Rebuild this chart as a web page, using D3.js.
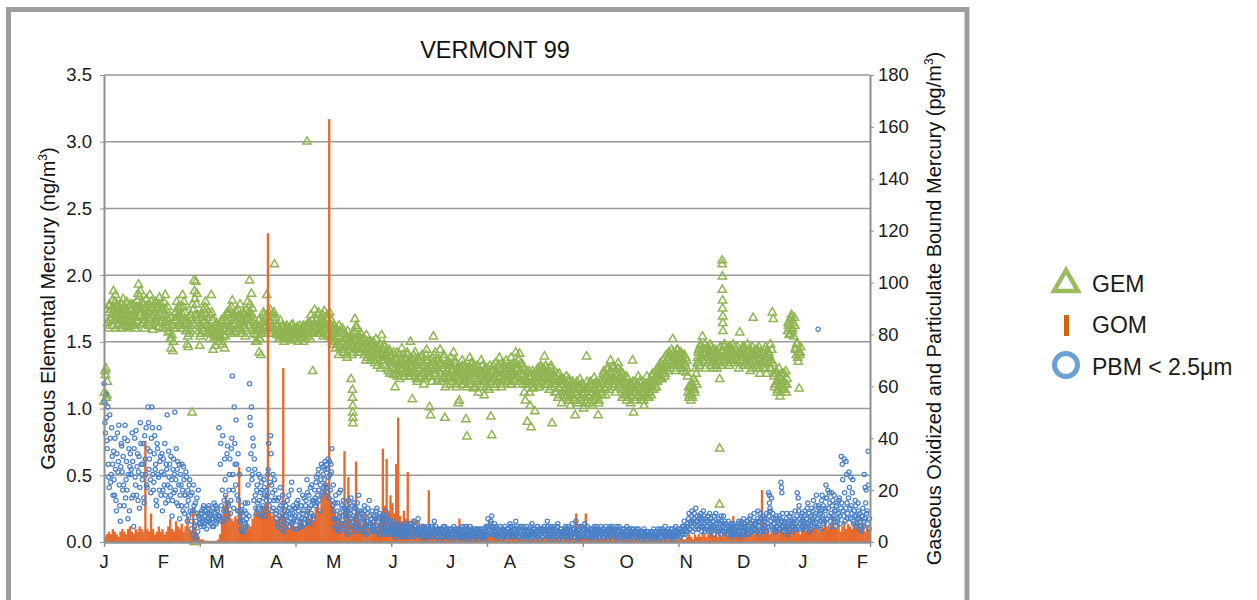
<!DOCTYPE html>
<html lang="en">
<head>
<meta charset="UTF-8">
<title>VERMONT 99</title>
<script src="https://d3js.org/d3.v7.min.js"></script>
<style>
  body { margin: 0; background: #fff; }
  svg { display: block; font-family: "Liberation Sans", Arial, sans-serif; }
  .axis text { font-size: 18.5px; fill: #1a1a1a; }
  .axis path, .axis line { stroke: #8f8f8f; }
</style>
</head>
<body>
<svg></svg>
<script>
// month initials and the day (from 1 Jan) each one starts on
const monthLabels = ["J","F","M","A","M","J","J","A","S","O","N","D","J","F"];
const monthDays = [0,31,59,90,120,151,181,212,243,273,304,334,365,396];
const tickDays = [0,50,100,150,200,250,300,350,400];
const leftTicks = [0,0.5,1,1.5,2,2.5,3,3.5];
const rightTicks = [0,20,40,60,80,100,120,140,160,180];

// GEM (ng/m3), readings at 00h and 12h from day 0
const gemValues = [
  1.05,1.28,1.30,1.10,1.64,1.72,1.77,1.66,1.70,1.81,
  1.88,1.74,1.85,1.68,1.72,1.63,1.66,1.75,1.70,1.62,
  1.82,1.71,1.74,1.65,1.61,1.68,1.70,1.77,1.78,1.66,
  1.64,1.72,1.69,1.60,1.76,1.81,1.93,1.84,1.88,1.74,
  1.72,1.64,1.66,1.70,1.82,1.73,1.68,1.62,1.85,1.76,
  1.70,1.59,1.64,1.72,1.80,1.69,1.74,1.61,1.83,1.70,
  1.78,1.66,1.70,1.60,1.85,1.74,1.68,1.57,1.62,1.52,
  1.45,1.55,1.43,1.60,1.66,1.72,1.80,1.70,1.75,1.64,
  1.69,1.60,1.85,1.76,1.72,1.63,1.58,1.48,1.46,1.56,
  1.62,1.70,0.97,1.74,1.96,1.82,1.95,1.86,1.70,1.62,
  1.47,1.56,1.60,1.68,1.74,1.66,1.80,1.70,1.63,1.57,
  1.52,1.60,1.85,1.66,1.44,1.55,1.47,1.58,1.62,1.52,
  1.50,1.62,1.58,1.66,1.48,1.55,1.45,1.60,1.64,1.70,
  1.72,1.58,1.62,1.76,1.81,1.66,1.70,1.57,1.60,1.68,
  1.74,1.62,1.78,1.65,1.56,1.64,1.70,1.60,1.66,1.74,
  1.80,1.68,1.96,1.72,1.86,1.75,1.64,1.58,1.62,1.55,
  1.50,1.60,1.42,1.52,1.40,1.58,1.65,1.70,1.62,1.56,
  1.85,1.66,1.72,1.60,1.64,1.56,1.70,1.61,2.08,1.68,
  1.62,1.55,1.58,1.52,1.66,1.57,1.54,1.60,1.50,1.58,
  1.55,1.62,1.53,1.57,1.60,1.51,1.56,1.63,1.52,1.58,
  1.57,1.54,1.61,1.50,1.55,1.59,1.53,1.57,1.62,1.55,
  1.58,1.52,3.00,1.60,1.56,1.64,1.70,1.58,1.28,1.62,
  1.74,1.62,1.66,1.56,1.72,1.60,1.58,1.68,1.65,1.54,
  1.73,1.63,1.60,1.55,1.70,1.58,1.64,1.52,1.57,1.48,
  1.62,1.50,1.45,1.56,1.48,1.40,1.58,1.52,1.44,1.60,
  1.50,1.42,1.46,1.55,1.38,1.48,1.44,1.52,1.22,1.40,
  1.46,1.58,1.67,1.52,1.60,1.45,1.55,1.48,1.42,1.50,
  1.52,1.44,1.40,1.48,1.55,1.38,1.46,1.42,1.36,1.50,
  1.48,1.38,1.44,1.34,1.52,1.40,1.36,1.46,1.42,1.30,
  1.55,1.40,1.36,1.46,1.32,1.42,1.38,1.28,1.44,1.34,
  1.40,1.30,1.35,1.25,1.16,1.38,1.42,1.28,1.33,1.22,
  1.36,1.45,1.30,1.24,1.38,1.32,1.27,1.40,1.35,1.26,
  1.50,1.30,1.07,1.36,1.24,1.42,1.32,1.20,1.38,1.28,
  1.22,1.34,1.40,1.26,1.18,1.32,1.36,1.44,1.24,1.30,
  1.01,0.95,1.30,1.38,1.54,1.26,1.42,1.32,1.20,1.36,
  1.28,1.44,1.34,1.22,1.30,1.40,0.93,1.26,1.18,1.35,
  1.32,1.24,1.38,1.28,1.20,1.42,1.26,1.34,1.16,1.30,
  1.04,1.06,1.22,1.30,1.36,1.18,1.25,1.32,0.92,0.79,
  1.24,1.18,1.38,1.30,1.22,1.34,1.15,1.28,1.26,1.20,
  1.32,1.12,1.20,1.28,1.36,1.16,1.24,1.10,1.30,1.22,
  1.18,1.26,1.14,1.32,0.94,0.80,1.22,1.28,1.16,1.34,
  1.26,1.20,1.30,1.38,1.24,1.16,1.34,1.28,1.22,1.30,
  1.36,1.25,1.20,1.32,1.28,1.38,1.18,1.26,1.34,1.22,
  1.42,1.30,1.24,1.36,1.41,1.28,1.20,1.33,1.26,1.12,
  1.06,1.22,0.90,1.18,1.28,1.02,0.86,1.20,1.15,1.26,
  0.98,1.24,1.18,1.30,1.22,1.16,1.32,1.26,1.20,1.28,
  1.39,1.24,1.18,1.30,1.26,1.14,1.22,1.32,0.89,1.20,
  1.24,1.12,1.18,1.26,1.08,1.20,1.15,1.22,1.04,1.18,
  1.22,1.10,1.16,1.24,1.06,1.14,1.20,1.02,1.12,1.18,
  1.08,1.16,0.95,1.10,1.20,1.04,1.14,1.22,1.08,1.12,
  1.18,1.00,1.06,1.14,1.39,1.10,1.16,1.04,1.20,1.12,
  1.02,1.14,1.23,1.08,1.10,1.18,0.95,1.06,1.14,1.20,
  1.12,1.22,1.28,1.16,1.10,1.24,1.20,1.30,1.14,1.36,
  1.26,1.18,1.32,1.22,1.12,1.28,1.20,1.34,1.16,1.24,
  1.18,1.08,1.26,1.14,1.20,1.10,1.06,1.22,1.16,1.12,
  1.04,1.18,1.36,0.97,1.12,1.20,1.08,1.16,1.24,1.10,
  1.14,1.06,1.20,1.12,1.02,1.18,1.10,1.24,1.16,1.08,
  1.12,1.20,1.18,1.26,1.14,1.22,1.28,1.16,1.20,1.30,
  1.24,1.34,1.28,1.22,1.36,1.30,1.26,1.40,1.32,1.38,
  1.42,1.30,1.36,1.44,1.52,1.34,1.40,1.28,1.38,1.44,
  1.34,1.42,1.30,1.38,1.36,1.28,1.40,1.32,1.27,1.36,
  1.12,1.08,1.16,1.06,1.10,1.14,1.22,1.12,1.30,1.18,
  1.38,1.44,1.32,1.48,1.40,1.54,1.36,1.44,1.30,1.42,
  1.46,1.34,1.40,1.48,1.32,1.38,1.44,1.30,1.36,1.42,
  1.30,1.40,1.34,1.22,1.46,1.38,1.42,1.34,1.48,1.38,
  1.36,1.44,1.40,1.32,1.46,1.36,1.42,1.48,1.34,1.40,
  1.44,1.36,1.40,1.30,1.57,1.42,1.38,1.46,1.32,1.40,
  1.44,1.34,1.48,1.38,1.36,1.28,1.42,1.46,1.68,1.40,
  1.36,1.44,1.30,1.40,1.46,1.26,1.38,1.34,1.42,1.30,
  1.34,1.46,1.26,1.38,1.42,1.30,1.48,1.36,1.72,1.67,
  1.24,1.18,1.28,1.12,1.20,1.30,1.09,1.22,1.16,1.26,
  1.20,1.14,1.28,1.18,1.58,1.62,1.66,1.56,1.70,1.60,
  1.64,1.68,1.45,1.40,1.49,1.35,1.15,1.42
];
// GEM (ng/m3), readings at 06h and 18h from day 0
const gemValues2 = [
  1.12,1.25,1.08,1.20,1.60,1.78,1.68,1.74,1.62,1.76,
  1.66,1.80,1.60,1.78,1.76,1.68,1.72,1.60,1.78,1.67,
  1.64,1.76,1.62,1.80,1.73,1.65,1.60,1.74,1.69,1.62,
  1.78,1.68,1.62,1.74,1.66,1.86,1.75,1.70,1.63,1.80,
  1.78,1.68,1.60,1.76,1.70,1.64,1.78,1.72,1.66,1.80,
  1.62,1.75,1.78,1.66,1.64,1.76,1.68,1.78,1.64,1.74,
  1.60,1.74,1.80,1.64,1.70,1.62,1.76,1.66,1.58,1.68,
  1.52,1.62,1.50,1.66,1.72,1.60,1.68,1.76,1.62,1.70,
  1.76,1.64,1.70,1.80,1.66,1.58,1.66,1.54,1.60,1.68,
  1.58,1.66,1.78,1.64,1.88,1.70,1.78,1.66,1.58,1.68,
  1.54,1.62,1.70,1.58,1.64,1.76,1.62,1.74,1.68,1.56,
  1.60,1.70,1.72,1.58,1.52,1.62,1.56,1.64,1.54,1.60,
  1.58,1.54,1.66,1.52,1.60,1.68,1.54,1.66,1.72,1.58,
  1.62,1.74,1.68,1.56,1.70,1.62,1.58,1.66,1.72,1.60,
  1.60,1.68,1.70,1.58,1.66,1.72,1.62,1.54,1.58,1.68,
  1.72,1.62,1.78,1.66,1.70,1.60,1.56,1.66,1.50,1.62,
  1.58,1.66,1.52,1.60,1.56,1.64,1.72,1.60,1.68,1.62,
  1.70,1.60,1.66,1.74,1.58,1.68,1.62,1.72,1.60,1.56,
  1.56,1.62,1.52,1.60,1.58,1.54,1.62,1.52,1.56,1.60,
  1.60,1.54,1.58,1.52,1.55,1.62,1.58,1.52,1.60,1.55,
  1.52,1.60,1.56,1.58,1.62,1.53,1.56,1.60,1.50,1.58,
  1.62,1.56,1.54,1.64,1.60,1.52,1.58,1.66,1.62,1.56,
  1.58,1.66,1.60,1.70,1.56,1.64,1.62,1.58,1.70,1.60,
  1.60,1.68,1.56,1.66,1.62,1.72,1.54,1.66,1.50,1.58,
  1.52,1.58,1.60,1.48,1.54,1.62,1.46,1.56,1.50,1.42,
  1.56,1.46,1.52,1.40,1.58,1.50,1.46,1.54,1.48,1.42,
  1.52,1.44,1.56,1.62,1.48,1.54,1.42,1.50,1.56,1.46,
  1.46,1.52,1.42,1.36,1.44,1.50,1.40,1.48,1.44,1.38,
  1.42,1.50,1.36,1.46,1.40,1.32,1.44,1.38,1.48,1.40,
  1.36,1.44,1.48,1.38,1.40,1.30,1.36,1.42,1.26,1.38,
  1.34,1.26,1.42,1.30,1.36,1.28,1.24,1.34,1.40,1.30,
  1.28,1.34,1.40,1.32,1.26,1.36,1.42,1.30,1.24,1.34,
  1.36,1.26,1.32,1.40,1.28,1.34,1.22,1.30,1.36,1.24,
  1.30,1.38,1.26,1.34,1.22,1.28,1.40,1.30,1.36,1.24,
  1.32,1.24,1.20,1.34,1.40,1.30,1.26,1.36,1.30,1.22,
  1.34,1.26,1.20,1.30,1.38,1.24,1.16,1.32,1.28,1.22,
  1.26,1.34,1.20,1.32,1.28,1.22,1.36,1.18,1.28,1.24,
  1.20,1.30,1.26,1.18,1.32,1.24,1.20,1.30,1.16,1.26,
  1.30,1.22,1.26,1.34,1.18,1.28,1.32,1.22,1.16,1.28,
  1.22,1.30,1.26,1.18,1.24,1.32,1.20,1.28,1.24,1.16,
  1.30,1.22,1.24,1.18,1.28,1.20,1.32,1.22,1.26,1.18,
  1.20,1.32,1.24,1.28,1.18,1.30,1.22,1.26,1.32,1.20,
  1.28,1.20,1.30,1.24,1.18,1.32,1.28,1.22,1.26,1.30,
  1.34,1.24,1.30,1.20,1.28,1.34,1.24,1.18,1.30,1.22,
  1.18,1.28,1.20,1.26,1.12,1.24,1.18,1.28,1.22,1.16,
  1.20,1.28,1.24,1.16,1.26,1.30,1.20,1.24,1.30,1.18,
  1.26,1.32,1.22,1.18,1.28,1.24,1.30,1.16,1.22,1.26,
  1.18,1.24,1.12,1.20,1.16,1.26,1.10,1.18,1.22,1.12,
  1.14,1.20,1.08,1.18,1.12,1.22,1.06,1.16,1.10,1.20,
  1.14,1.06,1.18,1.12,1.04,1.16,1.10,1.06,1.18,1.14,
  1.10,1.16,1.12,1.04,1.20,1.14,1.08,1.18,1.10,1.06,
  1.12,1.18,1.06,1.14,1.20,1.10,1.04,1.16,1.20,1.10,
  1.18,1.26,1.20,1.14,1.24,1.30,1.18,1.22,1.28,1.20,
  1.22,1.30,1.16,1.26,1.20,1.24,1.30,1.18,1.22,1.28,
  1.14,1.22,1.18,1.10,1.16,1.24,1.12,1.08,1.18,1.14,
  1.10,1.16,1.20,1.12,1.06,1.14,1.18,1.10,1.14,1.20,
  1.08,1.16,1.12,1.06,1.14,1.10,1.18,1.08,1.12,1.16,
  1.16,1.10,1.24,1.14,1.20,1.16,1.24,1.20,1.26,1.22,
  1.28,1.22,1.32,1.26,1.30,1.24,1.34,1.30,1.36,1.28,
  1.34,1.40,1.32,1.38,1.42,1.36,1.32,1.40,1.44,1.36,
  1.38,1.32,1.42,1.36,1.30,1.40,1.34,1.38,1.30,1.24,
  1.16,1.10,1.12,1.18,1.08,1.16,1.14,1.20,1.26,1.34,
  1.42,1.34,1.46,1.38,1.44,1.36,1.40,1.48,1.36,1.44,
  1.38,1.44,1.36,1.42,1.46,1.34,1.40,1.38,1.44,1.32,
  1.42,1.36,1.40,1.46,1.32,1.42,1.38,1.46,1.36,1.42,
  1.40,1.34,1.46,1.38,1.42,1.44,1.36,1.40,1.46,1.38,
  1.38,1.46,1.34,1.42,1.40,1.36,1.44,1.38,1.46,1.34,
  1.40,1.38,1.32,1.44,1.40,1.34,1.38,1.30,1.42,1.36,
  1.40,1.32,1.44,1.36,1.30,1.42,1.34,1.40,1.36,1.44,
  1.38,1.30,1.42,1.34,1.40,1.36,1.30,1.44,1.34,1.26,
  1.16,1.26,1.20,1.14,1.24,1.18,1.12,1.26,1.20,1.14,
  1.26,1.18,1.12,1.22,1.64,1.55,1.60,1.68,1.58,1.64,
  1.54,1.62,1.44,1.48,1.38,1.42,1.40,1.46
];
// GEM readings that fall off the regular grid: [day, value]
const gemExtra = [
  [47.2,0.22],[47.2,0.0],
  [129.8,1.14],[129.8,1.08],[129.9,1.02],[129.9,0.97],[130.0,0.93],[130.0,0.89],
  [321.5,0.70],[321.4,0.28],
  [322.8,2.11],[322.8,2.08],[322.9,1.99],[322.9,1.89],[323.0,1.81],[323.0,1.75],
  [323.1,1.69],[323.1,1.64],[323.2,1.58]
];

// GOM (pg/m3), one value per day from day 0
const gomValues = [
  2,3,4,3,5,4,3,2,4,5,
  4,3,5,6,4,3,5,4,6,5,
  4,39,5,4,11,5,3,4,6,4,
  5,3,4,6,9,5,4,8,6,5,
  7,4,6,10,5,4,13,6,3,2,
  1,1,0.5,0.5,0.5,0.4,0.5,0.3,0.5,1,
  3,10,14,18,16,12,9,8,10,9,
  29,12,6,4,8,5,6,9,11,13,
  10,12,14,13,15,119,12,10,11,9,
  8,10,11,67,9,6,5,7,8,6,
  5,7,9,8,6,10,12,9,11,8,
  13,15,12,18,20,23,19,163,16,14,
  12,10,9,11,8,35,14,25,9,7,
  10,31,12,8,6,9,11,7,5,8,
  6,9,5,7,10,36,14,32,12,18,
  15,11,30,48,10,8,12,9,27,7,
  6,9,5,8,4,6,7,5,4,20,
  4,3,5,2,4,3,2,4,3,2,
  3,2,4,3,2,9,3,2,4,7,
  3,2,1,2,3,1,2,3,4,3,
  2,3,4,5,3,2,1,2,3,2,
  1,2,1,2,3,2,1,2,1,2,
  1,2,1,1,2,1,2,1,1,2,
  1,2,1,2,1,1,2,1,2,1,
  2,1,2,3,2,1,11,2,3,2,
  3,11,2,4,3,2,1,2,1,2,
  1,2,1,1,2,1,2,1,2,1,
  1,2,1,1,2,1,1,2,1,1,
  1,1,2,1,1,2,1,1,1,2,
  1,1,2,1,1,1,2,1,1,1,
  1,2,1,1,2,3,2,1,3,2,
  3,2,4,3,2,3,4,3,2,3,
  2,3,2,4,3,2,3,4,10,3,
  2,3,4,3,5,4,3,4,5,3,
  4,5,3,20,6,4,5,3,4,6,
  4,5,3,6,4,3,5,4,6,5,
  4,6,5,3,5,6,4,7,5,6,
  5,7,6,4,6,5,8,6,5,7,
  10,6,5,7,4,6,8,5,7,6,
  5,7,6,8,5,6,7,4,6,5
];

// PBM < 2.5um (pg/m3), readings at 00h and 12h from day 0
const pbmValues = [
  61,46,57,39,52,25,49,23,44,30,
  35,18,28,12,42,31,22,8,38,27,
  33,14,45,24,20,9,36,29,26,17,
  31,6,40,22,18,34,27,13,46,30,
  24,38,15,32,44,21,52,28,35,19,
  52,26,23,41,30,14,36,25,20,33,
  27,12,32,22,18,30,49,16,25,21,
  33,10,28,19,50,24,15,31,22,9,
  26,14,20,29,11,18,25,8,16,22,
  12,5,19,3,14,1,8,17,4,10,
  9,6,12,8,14,7,10,5,11,13,
  8,10,12,6,9,15,11,7,13,9,
  44,10,38,8,41,12,32,18,9,37,
  14,26,11,36,64,20,52,30,47,18,
  34,12,10,5,14,8,4,12,6,9,
  15,28,61,45,52,26,37,32,18,11,
  22,13,16,25,10,20,14,24,18,12,
  20,26,38,16,41,22,19,13,24,17,
  9,16,6,13,21,8,11,15,4,10,
  14,7,12,18,6,9,23,11,8,13,
  10,15,5,12,20,8,14,6,11,17,
  9,16,24,12,18,7,14,22,10,16,
  20,14,25,18,28,16,22,30,19,26,
  24,31,21,28,32,17,26,30,36,14,
  12,6,18,9,15,4,10,20,7,13,
  16,5,11,9,14,3,8,12,17,6,
  10,15,4,13,7,11,18,6,9,12,
  5,10,14,7,3,11,8,16,6,9,
  12,4,8,10,6,13,5,9,11,3,
  7,10,5,8,12,4,9,6,3,8,
  6,4,8,3,5,7,2,6,4,5,
  3,6,5,2,7,4,3,5,6,2,
  4,7,3,5,2,6,4,3,9,5,
  3,5,2,4,6,3,1,5,4,2,
  5,3,4,6,2,8,3,4,5,2,
  4,1,3,5,2,4,6,3,2,5,
  3,5,2,4,1,3,5,2,4,3,
  2,4,5,1,3,2,4,6,3,1,
  2,4,3,5,1,3,4,2,5,3,
  4,2,1,3,5,2,3,4,1,6,
  4,9,6,3,8,10,5,3,7,2,
  3,5,2,4,6,1,3,5,2,4,
  4,2,5,3,7,4,2,6,3,5,
  8,3,5,2,4,6,1,3,5,2,
  3,6,2,4,5,1,3,7,2,4,
  5,3,2,6,4,1,3,5,2,4,
  6,3,4,8,2,5,3,1,4,6,
  3,5,2,4,7,1,3,5,2,4,
  4,2,6,3,5,1,3,4,2,7,
  3,5,2,8,4,1,3,6,2,4,
  5,3,7,2,4,6,3,1,5,3,
  2,4,6,3,1,5,3,2,4,6,
  3,5,2,4,6,3,1,4,5,2,
  4,6,3,2,5,3,4,1,6,3,
  2,4,5,3,1,4,6,2,3,5,
  4,2,3,5,1,3,4,2,5,3,
  3,1,4,2,5,3,2,4,1,3,
  2,4,3,1,5,2,3,4,2,1,
  3,5,2,4,1,3,6,2,4,3,
  2,4,3,5,1,3,2,6,4,3,
  3,5,2,4,6,3,8,5,4,7,
  6,11,5,8,12,4,9,7,13,6,
  8,5,10,6,4,9,12,7,5,8,
  6,10,4,7,9,5,8,3,6,11,
  7,4,9,5,3,8,6,10,4,7,
  5,3,8,4,6,2,5,7,3,4,
  4,6,3,8,5,2,7,4,9,3,
  6,4,8,5,3,10,7,4,6,11,
  5,8,4,12,6,3,9,7,10,5,
  8,4,11,6,19,15,12,17,5,9,
  7,4,10,6,8,5,9,23,19,6,
  4,8,6,11,3,7,10,5,8,4,
  6,9,12,5,19,17,14,7,10,6,
  5,8,12,6,9,15,7,4,10,13,
  8,16,6,11,18,9,14,7,12,5,
  18,9,7,13,22,17,20,10,15,6,
  19,16,9,12,6,14,8,11,17,7,
  33,30,12,32,8,31,15,9,27,13,
  25,11,24,7,10,14,6,9,12,5,
  8,4,10,6,26,21,20,12,35,5
];
// PBM < 2.5um (pg/m3), readings at 06h and 18h from day 0
const pbmValues2 = [
  54,42,48,36,30,21,40,26,33,18,
  24,40,16,34,27,45,14,29,37,20,
  22,40,17,31,39,26,12,34,28,42,
  18,36,25,43,29,16,33,21,38,26,
  30,17,41,26,22,36,46,32,24,40,
  44,20,34,28,16,38,26,44,31,18,
  34,20,26,38,15,28,22,35,30,18,
  24,16,32,26,20,36,28,14,30,18,
  22,30,12,24,18,27,14,20,10,24,
  18,8,12,22,6,15,2,11,20,7,
  7,11,9,13,6,10,12,8,9,14,
  11,7,9,13,6,10,14,8,12,10,
  10,30,14,20,8,16,24,12,34,15,
  20,32,16,40,26,13,38,22,30,12,
  16,26,8,12,4,10,7,15,11,6,
  22,10,48,34,24,40,16,28,13,20,
  15,26,11,19,23,13,17,21,10,16,
  18,28,14,23,34,12,26,16,20,11,
  12,7,17,10,14,5,18,9,12,6,
  10,16,8,13,11,20,7,14,9,5,
  13,8,16,10,6,14,9,18,12,7,
  14,10,19,8,13,21,11,16,9,15,
  17,23,15,26,20,12,24,18,29,21,
  28,22,30,19,25,31,20,27,16,22,
  9,15,5,12,8,19,11,6,14,10,
  7,13,10,4,12,16,6,11,9,14,
  8,13,6,10,15,5,12,8,4,11,
  9,6,12,4,8,13,6,10,7,5,
  6,10,4,9,12,5,8,3,10,6,
  5,9,4,7,3,10,6,4,8,5,
  5,3,6,4,2,5,7,3,5,6,
  4,2,5,6,3,4,5,2,4,7,
  6,3,5,8,4,3,5,7,4,3,
  4,2,6,3,5,4,2,4,6,3,
  3,6,2,5,4,3,6,4,2,5,
  3,5,4,2,6,3,4,5,3,2,
  4,2,5,3,4,6,2,3,5,4,
  5,3,2,4,6,3,5,3,2,4,
  4,3,6,2,4,5,3,2,4,5,
  2,5,3,4,2,3,5,2,4,3,
  6,3,5,7,4,6,3,5,4,6,
  5,2,4,3,5,3,4,2,6,3,
  3,5,2,4,6,3,4,2,5,3,
  4,6,3,5,2,4,3,6,2,4,
  5,2,4,3,2,6,4,3,5,3,
  3,4,6,2,5,3,4,2,5,6,
  4,5,2,6,3,4,6,3,5,2,
  5,2,4,6,3,4,2,5,4,3,
  3,5,4,2,6,3,5,2,4,5,
  5,2,4,3,6,2,5,3,4,6,
  3,5,2,4,3,5,4,2,3,5,
  5,3,2,4,6,3,4,5,2,3,
  4,2,5,3,4,2,5,3,6,4,
  3,5,2,4,3,6,2,4,3,5,
  4,3,2,5,3,2,4,5,2,3,
  3,5,2,4,3,2,5,3,4,2,
  2,4,3,2,4,2,3,1,4,2,
  3,2,4,3,2,4,2,3,5,3,
  4,2,3,5,4,2,3,4,2,5,
  4,3,5,2,3,4,5,3,2,4,
  4,2,5,3,4,6,5,3,6,4,
  9,5,7,10,6,8,11,5,8,10,
  5,9,7,11,8,6,10,4,9,6,
  8,5,11,6,4,8,6,10,5,7,
  5,8,4,7,10,5,7,4,8,5,
  4,6,3,5,7,4,3,6,5,3,
  5,3,7,4,6,8,3,6,4,7,
  5,8,3,6,9,4,6,8,5,7,
  7,4,9,5,8,11,4,7,5,9,
  6,9,4,7,10,13,8,6,11,7,
  5,9,6,4,7,10,5,8,11,6,
  7,5,9,4,6,8,5,11,6,7,
  8,5,7,10,6,12,9,5,8,11,
  7,10,5,9,13,6,11,8,5,9,
  12,7,10,14,6,9,13,8,11,16,
  10,14,8,12,17,9,13,19,8,11,
  14,10,18,8,12,15,9,16,10,13,
  15,24,10,19,13,26,11,17,21,9,
  14,19,8,12,16,10,7,15,9,11,
  6,10,13,8,9,15,11,7,22,9
];
const pbmExtra = [[372.9,82],[347.5,18],[347.5,11.6],[353.8,21]];

const width = 1257, height = 600;
const plot = { left: 104, right: 870, top: 75, bottom: 542 };

const svg = d3.select("svg").attr("width", width).attr("height", height);

svg.append("rect")
  .attr("x", 8.5).attr("y", 9.5)
  .attr("width", 958.5).attr("height", 640)
  .attr("fill", "none").attr("stroke", "#9d9da1").attr("stroke-width", 5);

const x = d3.scaleLinear().domain([0, 400]).range([plot.left, plot.right]);
const yL = d3.scaleLinear().domain([0, 3.5]).range([plot.bottom, plot.top]);
const yR = d3.scaleLinear().domain([0, 180]).range([plot.bottom, plot.top]);

// gridlines
svg.append("g").selectAll("line")
  .data(leftTicks.filter(d => d > 0))
  .enter().append("line")
  .attr("x1", plot.left).attr("x2", plot.right)
  .attr("y1", d => yL(d)).attr("y2", d => yL(d))
  .attr("stroke", "#9a9a9a").attr("stroke-width", 1.5);

// GEM triangles
const gem = gemValues.map((v, i) => ({ day: i * 0.5, v }))
  .concat(gemValues2.map((v, i) => ({ day: i * 0.5 + 0.25, v })))
  .concat(gemExtra.map(d => ({ day: d[0], v: d[1] })));
const tri = d3.symbol().type(d3.symbolTriangle).size(30);
svg.append("g").selectAll("path")
  .data(gem)
  .enter().append("path")
  .attr("d", tri)
  .attr("transform", d => `translate(${x(d.day)},${yL(d.v)})`)
  .attr("fill", "none").attr("stroke", "#8fb552").attr("stroke-width", 1.5);

// GOM bars
const barW = x(1) - x(0) + 0.4;
svg.append("g").selectAll("rect")
  .data(gomValues)
  .enter().append("rect")
  .attr("x", (d, i) => x(i))
  .attr("width", barW)
  .attr("y", d => yR(d))
  .attr("height", d => plot.bottom - yR(d))
  .attr("fill", "#e8692a");

// PBM circles
const pbm = pbmValues.map((v, i) => ({ day: i * 0.5, v }))
  .concat(pbmValues2.map((v, i) => ({ day: i * 0.5 + 0.25, v })))
  .concat(pbmExtra.map(d => ({ day: d[0], v: d[1] })));
svg.append("g").selectAll("circle")
  .data(pbm)
  .enter().append("circle")
  .attr("cx", d => x(d.day))
  .attr("cy", d => yR(d.v))
  .attr("r", 2.1)
  .attr("fill", "none").attr("stroke", "#4a80c6").attr("stroke-width", 1.25);

// axes
svg.append("g")
  .attr("class", "axis")
  .attr("transform", `translate(${plot.left},0)`)
  .call(d3.axisLeft(yL).tickValues(leftTicks).tickFormat(d3.format(".1f"))
    .tickSize(4).tickPadding(8).tickSizeOuter(0))
  .call(g => g.select(".domain").attr("stroke-width", 2));

svg.append("g")
  .attr("class", "axis")
  .attr("transform", `translate(${plot.right},0)`)
  .call(d3.axisRight(yR).tickValues(rightTicks).tickSize(4).tickPadding(4).tickSizeOuter(0))
  .call(g => g.select(".domain").attr("stroke-width", 2));

svg.append("g")
  .attr("class", "axis")
  .attr("transform", `translate(0,${plot.bottom})`)
  .call(d3.axisBottom(x).tickValues(tickDays).tickFormat("").tickSize(5).tickSizeOuter(0))
  .call(g => g.select(".domain").attr("stroke-width", 2.5))
  .call(g => g.selectAll(".tick line").attr("stroke-width", 1.5));

svg.append("g").selectAll("text")
  .data(monthLabels)
  .enter().append("text")
  .attr("x", (d, i) => x(monthDays[i]))
  .attr("y", 568)
  .attr("text-anchor", "middle")
  .attr("font-size", 18.5).attr("fill", "#1a1a1a")
  .text(d => d);

// titles
svg.append("text")
  .attr("x", 495).attr("y", 58)
  .attr("text-anchor", "middle")
  .attr("font-size", 23.5).attr("fill", "#111")
  .text("VERMONT 99");

const yMid = (plot.top + plot.bottom) / 2;
const leftTitle = svg.append("text")
  .attr("transform", `translate(55,${yMid}) rotate(-90)`)
  .attr("text-anchor", "middle")
  .attr("font-size", 20).attr("fill", "#111");
leftTitle.append("tspan").text("Gaseous Elemental Mercury (ng/m");
leftTitle.append("tspan").attr("font-size", 12).attr("dy", -8).text("3");
leftTitle.append("tspan").attr("dy", 8).text(")");

const rightTitle = svg.append("text")
  .attr("transform", `translate(941,${yMid}) rotate(-90)`)
  .attr("text-anchor", "middle")
  .attr("font-size", 20).attr("fill", "#111");
rightTitle.append("tspan").text("Gaseous Oxidized and Particulate Bound Mercury (pg/m");
rightTitle.append("tspan").attr("font-size", 12).attr("dy", -8).text("3");
rightTitle.append("tspan").attr("dy", 8).text(")");

// legend
const legend = svg.append("g");
legend.append("path")
  .attr("d", d3.symbol().type(d3.symbolTriangle).size(250))
  .attr("transform", "translate(1066,284)")
  .attr("fill", "none").attr("stroke", "#9cba5e").attr("stroke-width", 4.5);
legend.append("rect")
  .attr("x", 1064).attr("y", 315).attr("width", 5).attr("height", 21)
  .attr("fill", "#d1640f");
legend.append("circle")
  .attr("cx", 1066).attr("cy", 365).attr("r", 11.5)
  .attr("fill", "none").attr("stroke", "#6b9fd6").attr("stroke-width", 5);
legend.selectAll("text")
  .data([["GEM", 292], ["GOM", 333], ["PBM < 2.5\u03bcm", 375]])
  .enter().append("text")
  .attr("x", 1092).attr("y", d => d[1])
  .attr("font-size", 23).attr("fill", "#1a1a1a")
  .text(d => d[0]);
</script>
</body>
</html>
